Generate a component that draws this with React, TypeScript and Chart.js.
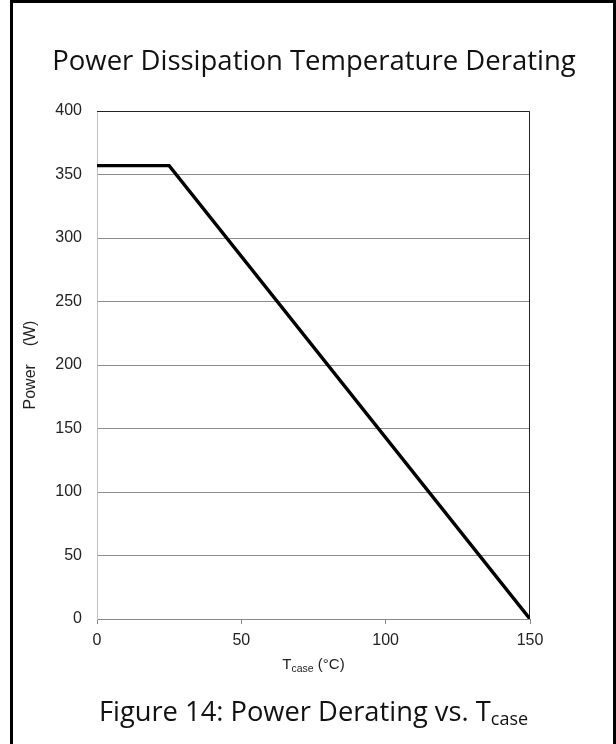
import React, { useEffect, useRef } from "react";
import { Chart, registerables } from "chart.js";
Chart.register(...registerables);

const tempC = [0, 25, 150];
const powerW = [357, 357, 0];
const yTickValues = [0, 50, 100, 150, 200, 250, 300, 350, 400];
const xTickValues = [0, 50, 100, 150];
const chartTitle = "Power Dissipation Temperature Derating";
const yAxisTitle = "Power    (W)";
const captionMain = "Figure 14: Power Derating vs. T";
const captionSub = "case";

const W = 616;
const H = 744;
const AREA = { left: 97, right: 530, top: 111, bottom: 619 };

export default function App() {
  const ref = useRef<HTMLCanvasElement | null>(null);

  useEffect(() => {
    if (!ref.current) return;
    const frame = {
      id: "plotFrame",
      beforeDatasetsDraw(chart: any) {
        const { ctx, chartArea: a } = chart;
        ctx.save();
        ctx.strokeStyle = "#222";
        ctx.lineWidth = 1;
        ctx.beginPath();
        ctx.moveTo(a.left, a.top + 0.5);
        ctx.lineTo(a.right - 0.5, a.top + 0.5);
        ctx.lineTo(a.right - 0.5, a.bottom);
        ctx.stroke();
        ctx.restore();
      },
    };
    const chart = new Chart(ref.current, {
      type: "line",
      data: {
        datasets: [
          {
            data: tempC.map((t, i) => ({ x: t, y: powerW[i] })),
            borderColor: "#000",
            borderWidth: 3.4,
            pointRadius: 0,
            tension: 0,
            fill: false,
          },
        ],
      },
      options: {
        responsive: false,
        animation: false,
        layout: {
          padding: { left: 0, top: AREA.top, right: W - AREA.right, bottom: 0 },
        },
        plugins: { legend: { display: false }, tooltip: { enabled: false }, title: { display: false } },
        scales: {
          x: {
            type: "linear",
            min: 0,
            max: 150,
            afterBuildTicks: (s: any) => {
              s.ticks = xTickValues.map((v) => ({ value: v }));
            },
            afterFit: (s: any) => {
              s.height = H - AREA.bottom;
            },
            grid: { drawOnChartArea: false, drawTicks: true, tickLength: 5, color: "#888" },
            border: { color: "#888", width: 1 },
            ticks: {
              padding: 7,
              color: "#222",
              font: { family: "'Liberation Sans', Arial, sans-serif", size: 16 },
              maxRotation: 0,
            },
          },
          y: {
            type: "linear",
            min: 0,
            max: 400,
            afterBuildTicks: (s: any) => {
              s.ticks = yTickValues.map((v) => ({ value: v }));
            },
            afterFit: (s: any) => {
              s.width = AREA.left;
            },
            grid: { drawTicks: false, color: "#8c8c8c", lineWidth: 1 },
            border: { color: "#c0c0c0", width: 1 },
            ticks: {
              padding: 15,
              color: "#222",
              font: { family: "'Liberation Sans', Arial, sans-serif", size: 16 },
            },
            title: {
              display: true,
              text: yAxisTitle,
              color: "#222",
              padding: { top: 21, bottom: 0 },
              font: { family: "'Liberation Sans', Arial, sans-serif", size: 16 },
            },
          },
        },
      },
      plugins: [frame],
    });
    return () => chart.destroy();
  }, []);

  return (
    <div
      style={{
        position: "absolute",
        left: 0,
        top: 0,
        width: W,
        height: H,
        background: "#fff",
        overflow: "hidden",
      }}
    >
      <canvas ref={ref} width={W} height={H} style={{ position: "absolute", left: 0, top: 0 }} />
      <div
        style={{
          position: "absolute",
          left: 10,
          top: 0,
          width: 600,
          height: H + 10,
          borderLeft: "3px solid #000",
          borderTop: "3px solid #000",
          borderRight: "3px solid #000",
          pointerEvents: "none",
        }}
      />
      <div
        style={{
          position: "absolute",
          left: 6,
          width: W,
          top: 41,
          textAlign: "center",
          fontFamily: "'Open Sans', 'Noto Sans', sans-serif",
          fontSize: 27.5,
          lineHeight: "38px",
          color: "#111",
          whiteSpace: "nowrap",
        }}
      >
        {chartTitle}
      </div>
      <div
        style={{
          position: "absolute",
          left: AREA.left,
          width: AREA.right - AREA.left,
          top: 654,
          textAlign: "center",
          fontFamily: "'Liberation Sans', Arial, sans-serif",
          fontSize: 15,
          lineHeight: "20px",
          color: "#222",
          whiteSpace: "nowrap",
        }}
      >
        T<sub style={{ fontSize: 10.5, verticalAlign: "-3px" }}>case</sub> (°C)
      </div>
      <div
        style={{
          position: "absolute",
          left: AREA.left - 40,
          width: AREA.right - AREA.left + 80,
          top: 692,
          textAlign: "center",
          fontFamily: "'Open Sans', 'Noto Sans', sans-serif",
          fontSize: 27.3,
          lineHeight: "38px",
          color: "#111",
          whiteSpace: "nowrap",
        }}
      >
        {captionMain}
        <sub style={{ fontSize: 18, verticalAlign: "-4px" }}>{captionSub}</sub>
      </div>
    </div>
  );
}
